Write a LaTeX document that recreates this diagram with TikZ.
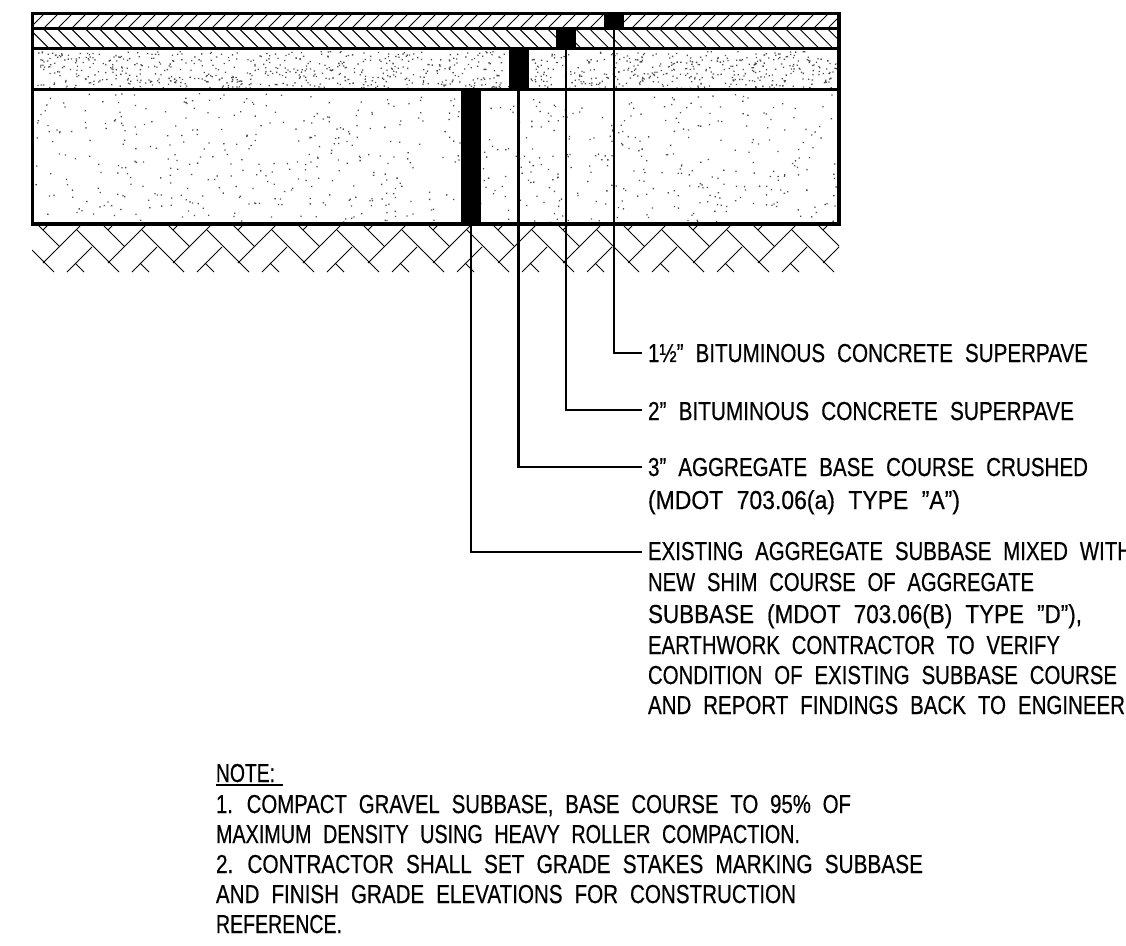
\documentclass[tikz,border=0pt]{standalone}
\usepackage{fontspec}
\setmainfont[WordSpace=2.1,FakeBold=0.5]{Liberation Sans}
\newsavebox{\fitbox}
\newcommand{\fitw}[2]{\sbox{\fitbox}{\fontsize{26}{26}\selectfont #2}\pgfmathsetmacro{\fitr}{#1/\the\wd\fitbox}\scalebox{\fitr}[1]{\usebox{\fitbox}}}
\tikzset{
  x=1pt,y=-1pt,
  heavy/.style={line width=3.3pt,line cap=butt},
  hatchline/.style={line width=1pt},
  leaderline/.style={line width=2.1pt,line join=miter},
  block/.style={fill=black,inner sep=0pt,outer sep=0pt,minimum width=20pt},
  txt/.style={anchor=base west,inner ysep=0pt,inner xsep=0pt,outer sep=0pt},
  lead/.style={anchor=base west,inner ysep=0pt,inner xsep=6pt,outer sep=0pt},
  dot/.style={fill=black!70}
}
\begin{document}
\begin{tikzpicture}
\useasboundingbox (0,0) rectangle (1126,945);
\fill[white] (0,0) rectangle (1126,945);
% stipple
\pgfmathsetseed{4711}
\fill[dot] foreach \i in {1,...,1000} {
  \pgfextra{\pgfmathsetmacro{\px}{35+802*rnd}\pgfmathsetmacro{\py}{51+37*rnd}}
  (\px,\py) rectangle ++(1.3,1.3)
};
\fill[dot] foreach \i in {1,...,680} {
  \pgfextra{\pgfmathsetmacro{\px}{35+802*rnd}\pgfmathsetmacro{\py}{92+130*rnd}}
  (\px,\py) rectangle ++(1.3,1.3)
};
% hatching of the two bituminous courses
\begin{scope}
\clip (33,13) rectangle (839,28);
\foreach \k in {-2,...,58} \draw[hatchline] ({44+14*\k},28) -- ++(15,-15);
\end{scope}
\begin{scope}
\clip (33,28) rectangle (839,48.7);
\foreach \k in {-3,...,58} \draw[hatchline] ({56.7+14*\k},28) -- ++(20.7,20.7);
\end{scope}
% earth
\begin{scope}
\clip (32,225) rectangle (839,272);
\foreach \k in {-1,...,12} {
  \draw[hatchline] ({38+65*\k},225) -- ++(21,21);
  \draw[hatchline] ({81+65*\k},225) -- ++(-38,38);
  \draw[hatchline] ({48+65*\k},225) -- ++(-5,5);
  \draw[hatchline] ({77+65*\k},230) -- ++(42,42);
  \draw[hatchline] ({92+65*\k},247) -- ++(-25,25);
  \draw[hatchline] ({75+65*\k},263) -- ++(9,9);
}
\end{scope}
% layers
\draw[heavy] (32.7,13.3) rectangle (839,224);
\draw[heavy] (32.7,28.3) -- (839,28.3);
\draw[heavy] (32.7,48.7) -- (839,48.7);
\draw[heavy] (32.7,89.4) -- (839,89.4);
% depth marks
\node[block,minimum height=15pt] (b1) at (614,21) {};
\node[block,minimum height=20.4pt] (b2) at (566,38.5) {};
\node[block,minimum height=41pt] (b3) at (518.5,69) {};
\node[block,minimum height=135pt] (b4) at (471,156.5) {};
% labels
\node[lead] (l1) at (642,362) {\fitw{440}{1½" BITUMINOUS CONCRETE SUPERPAVE}};
\node[lead] (l2) at (642,420) {\fitw{426}{2" BITUMINOUS CONCRETE SUPERPAVE}};
\node[lead] (l3) at (642,476) {\fitw{440}{3" AGGREGATE BASE COURSE CRUSHED}};
\node[txt] (l3b) at (648,509) {\fitw{312}{(MDOT 703.06(a) TYPE "A")}};
\node[lead] (l4) at (642,560) {\fitw{484}{EXISTING AGGREGATE SUBBASE MIXED WITH}};
\node[txt] (l4b) at (648,591) {\fitw{386}{NEW SHIM COURSE OF AGGREGATE}};
\node[txt] (l4c) at (648,623) {\fitw{434}{SUBBASE (MDOT 703.06(B) TYPE "D"),}};
\node[txt] (l4d) at (648,654) {\fitw{412}{EARTHWORK CONTRACTOR TO VERIFY}};
\node[txt] (l4e) at (648,684) {\fitw{469}{CONDITION OF EXISTING SUBBASE COURSE}};
\node[txt] (l4f) at (648,714) {\fitw{477}{AND REPORT FINDINGS BACK TO ENGINEER}};
% leaders
\draw[leaderline] (b1.south) |- (l1.west);
\draw[leaderline] (b2.south) |- ([yshift=1pt]l2.west);
\draw[leaderline] (b3.south) |- (l3.west);
\draw[leaderline] (b4.south) |- ([yshift=-1pt]l4.west);
% note
\node[txt] (note) at (216,782) {\fitw{59}{NOTE:}};
\draw[line width=1.5pt] ([yshift=-3pt]note.base west) -- ++(67,0);
\node[txt] (n1) at (216,813) {\fitw{635}{1. COMPACT GRAVEL SUBBASE, BASE COURSE TO 95\% OF}};
\node[txt] (n2) at (216,843) {\fitw{584}{MAXIMUM DENSITY USING HEAVY ROLLER COMPACTION.}};
\node[txt] (n3) at (216,873) {\fitw{707}{2. CONTRACTOR SHALL SET GRADE STAKES MARKING SUBBASE}};
\node[txt] (n4) at (216,903) {\fitw{580}{AND FINISH GRADE ELEVATIONS FOR CONSTRUCTION}};
\node[txt] (n5) at (216,933) {\fitw{126}{REFERENCE.}};
\end{tikzpicture}
\end{document}
